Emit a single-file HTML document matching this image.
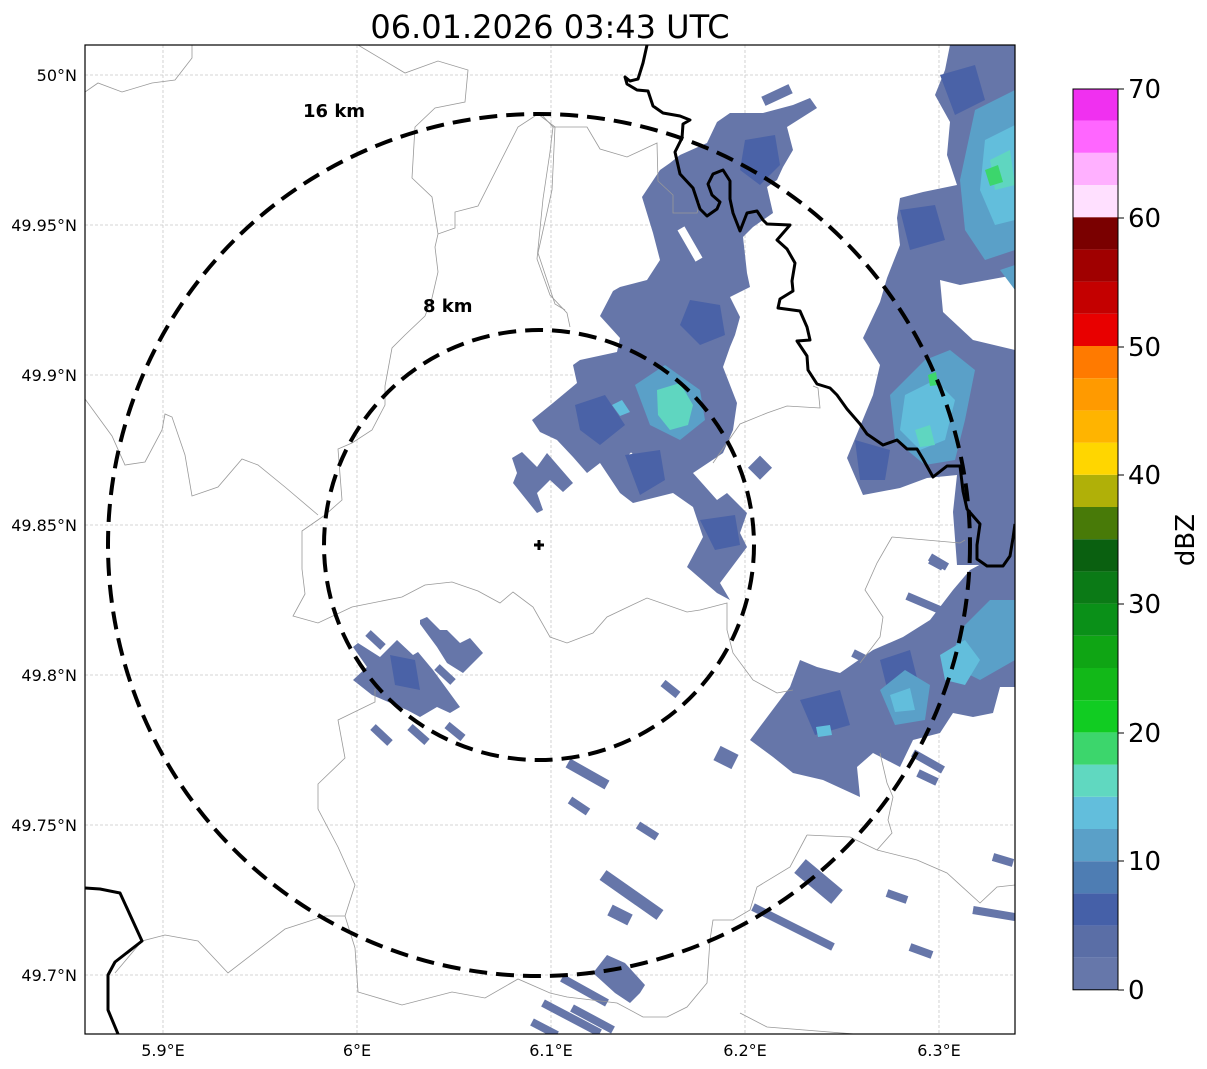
<!DOCTYPE html>
<html><head><meta charset="utf-8"><style>
html,body{margin:0;padding:0;background:#fff;}
svg{display:block;font-family:"DejaVu Sans","Liberation Sans",sans-serif;}
</style></head><body>
<svg width="1207" height="1069" viewBox="0 0 1207 1069" xmlns="http://www.w3.org/2000/svg">
<rect width="1207" height="1069" fill="#fff"/>
<text x="550" y="38" font-size="32" text-anchor="middle" fill="#000">06.01.2026 03:43 UTC</text>
<defs><clipPath id="c"><rect x="85" y="45" width="930" height="989"/></clipPath></defs>
<g clip-path="url(#c)">
<g stroke="#c8c8c8" stroke-width="0.8" stroke-dasharray="3,2">
<line x1="163" y1="45" x2="163" y2="1034"/><line x1="357" y1="45" x2="357" y2="1034"/><line x1="551" y1="45" x2="551" y2="1034"/><line x1="745" y1="45" x2="745" y2="1034"/><line x1="939" y1="45" x2="939" y2="1034"/>
<line x1="85" y1="75" x2="1015" y2="75"/><line x1="85" y1="225" x2="1015" y2="225"/><line x1="85" y1="375" x2="1015" y2="375"/><line x1="85" y1="525" x2="1015" y2="525"/><line x1="85" y1="675" x2="1015" y2="675"/><line x1="85" y1="825" x2="1015" y2="825"/><line x1="85" y1="975" x2="1015" y2="975"/>
</g>
<g fill="#6676a9">
<polygon points="532,420 553,403 577,383 573,365 580,360 617,352 620,338 600,316 613,291 620,287 647,280 660,260 653,233 642,197 660,170 670,163 680,155 707,143 717,122 730,113 763,113 793,105 810,98 817,108 787,127 793,150 783,167 777,180 767,187 773,213 753,227 743,237 747,273 750,287 730,297 740,317 735,335 730,347 723,367 737,403 733,430 723,453 693,473 717,500 727,493 747,513 740,533 747,547 720,583 730,600 717,593 687,567 703,537 693,507 673,493 633,503 620,493 600,463 587,473 573,457 557,440 540,432"/>
<polygon points="512,458 522,452 537,467 547,453 573,483 563,492 550,480 537,493 543,510 537,513 513,483 517,473"/>
<rect x="752" y="459" width="17" height="17" transform="rotate(45 760 467)"/>
<rect x="762" y="90" width="30" height="10" transform="rotate(-25 777 95)"/>
<polygon points="950,45 1015,45 1015,275 960,285 940,280 943,312 973,340 1015,350 1015,565 957,565 953,512 957,475 927,478 900,488 863,495 847,458 873,395 880,365 863,338 880,302 887,278 900,245 897,218 900,198 923,192 957,185 947,155 950,122 935,95 945,70"/>
<polygon points="750,740 780,700 790,687 800,660 817,667 840,673 873,650 903,637 930,620 953,590 970,570 983,563 1015,553 1015,687 1000,687 993,713 973,717 953,713 940,733 913,740 900,767 873,753 857,767 860,797 823,780 793,773 773,757"/>
<polygon points="353,680 367,667 353,647 358,643 380,657 397,640 413,655 418,652 433,670 460,707 450,713 437,707 420,717 407,710 372,695"/>
<polygon points="420,620 427,617 440,630 447,630 460,643 470,638 483,653 463,673 447,663 437,647 420,624"/>
<polygon points="593,973 607,955 625,963 645,985 640,993 630,1003 615,993"/>
</g>
<g stroke="#6676a9" stroke-width="8" stroke-linecap="butt">
<line x1="663" y1="683" x2="678" y2="695"/><line x1="570" y1="800" x2="588" y2="812"/><line x1="568" y1="763" x2="607" y2="785" stroke-width="10"/><line x1="638" y1="825" x2="657" y2="837"/><line x1="603" y1="875" x2="660" y2="915" stroke-width="12"/><line x1="610" y1="910" x2="630" y2="920" stroke-width="12"/><line x1="717" y1="753" x2="735" y2="762" stroke-width="16"/><line x1="753" y1="907" x2="833" y2="947"/><line x1="800" y1="866" x2="837" y2="897" stroke-width="18"/><line x1="887" y1="893" x2="907" y2="900"/><line x1="910" y1="947" x2="932" y2="955"/><line x1="993" y1="857" x2="1013" y2="863"/><line x1="973" y1="910" x2="1015" y2="917"/><line x1="930" y1="560" x2="943" y2="567"/><line x1="907" y1="596" x2="940" y2="610"/><line x1="930" y1="557" x2="947" y2="567"/><line x1="913" y1="753" x2="943" y2="770"/><line x1="918" y1="773" x2="937" y2="782"/><line x1="853" y1="653" x2="867" y2="660"/>
<line x1="373" y1="727" x2="390" y2="743"/><line x1="410" y1="727" x2="427" y2="742"/><line x1="447" y1="725" x2="463" y2="738"/><line x1="368" y1="633" x2="383" y2="647"/><line x1="437" y1="667" x2="453" y2="682"/>
<line x1="562" y1="978" x2="607" y2="1003"/><line x1="543" y1="1003" x2="600" y2="1033"/><line x1="572" y1="1008" x2="613" y2="1030"/><line x1="532" y1="1022" x2="557" y2="1035"/>
</g>
<g fill="#fff">
<rect x="686" y="226" width="8" height="36" transform="rotate(-30 690 244)"/>
<rect x="633" y="452" width="7" height="22" transform="rotate(-45 636 463)"/>
</g>
<g fill="#4a62a7">
<polygon points="745,140 775,135 780,165 760,185 740,170"/>
<polygon points="690,300 720,305 725,335 700,345 680,325"/>
<polygon points="575,405 605,395 625,425 600,445 580,430"/>
<polygon points="625,455 660,450 665,480 640,495"/>
<polygon points="700,520 735,515 740,545 715,550"/>
<polygon points="940,75 975,65 985,100 955,115"/>
<polygon points="900,210 935,205 945,240 910,250"/>
<polygon points="855,440 890,450 885,480 860,480"/>
<polygon points="800,700 840,690 850,725 815,735"/>
<polygon points="880,660 910,650 920,690 890,700"/>
<polygon points="390,655 415,660 420,690 395,685"/>
</g>
<g fill="#5aa0c8">
<polygon points="635,385 665,365 700,390 705,420 680,440 650,425"/>
<polygon points="975,110 1015,90 1015,250 985,260 965,230 960,180"/>
<polygon points="890,395 925,360 950,350 975,370 965,420 955,460 925,465 895,440"/>
<polygon points="960,630 990,600 1015,600 1015,660 980,680 950,665"/>
<polygon points="880,690 905,670 930,685 925,720 895,725"/>
<polygon points="1000,270 1015,265 1015,290"/>
</g>
<g fill="#62bedc">
<polygon points="985,140 1015,125 1015,220 995,225 980,190"/>
<polygon points="905,395 935,380 955,400 945,440 920,450 900,430"/>
<polygon points="940,655 965,640 980,660 965,685 945,680"/>
<polygon points="890,695 910,688 915,710 895,712"/>
<polygon points="816,727 830,725 832,735 818,737"/>
<polygon points="612,405 622,400 630,412 620,416"/>
</g>
<g fill="#5fd6c0">
<polygon points="657,390 680,383 693,405 688,425 670,430 658,415"/>
<polygon points="990,160 1010,150 1015,185 995,190"/>
<polygon points="915,430 930,425 935,445 920,447"/>
</g>
<g fill="#3cd66c">
<polygon points="985,170 998,165 1003,182 990,186"/>
<polygon points="928,375 936,372 938,385 930,386"/>
</g>
<g fill="none" stroke="#999" stroke-width="0.8">
<polyline points="85,92 98,83 122,92 152,83 175,80 192,58 192,45"/>
<polyline points="358,45 405,73 438,61 468,70 465,102 435,108 415,127 412,178 432,197 438,234 455,228 455,212 478,206 518,127 538,114 555,127 552,190 538,253 555,304 565,310"/>
<polyline points="438,234 435,247 438,272 432,298 425,316 405,335 392,348 385,386 385,405 372,430 352,443 338,449 342,500 325,515 302,531 302,569 305,594 293,616 318,623 352,607 402,597 425,585 452,582 478,591 500,603 513,592 533,607 550,637 567,643 593,633 607,617 647,598 687,612 700,610 727,603 727,630 733,653 753,680 777,693 793,690"/>
<polyline points="85,399 112,436 125,465 145,462 162,430 165,414 172,417 185,455 192,496 218,487 242,459 258,465 285,487 318,515"/>
<polyline points="540,113 553,127 587,127 600,149 627,157 657,143 658,181 673,195 673,213 697,213 700,202"/>
<polyline points="553,127 550,152 543,199 537,259 550,295 567,313 570,327"/>
<polyline points="713,463 740,424 767,413 787,406 820,408 818,388 813,386"/>
<polyline points="892,537 960,543 965,540"/>
<polyline points="892,537 877,563 865,590 883,617 880,637 860,663"/>
<polyline points="880,753 887,783 893,797 888,820 892,833 877,850"/>
<polyline points="807,835 850,837 877,850 917,860 947,873 980,903 997,887 1015,885"/>
<polyline points="807,835 790,867 757,887 750,910 733,920 713,920 710,940 707,983 687,1007 667,1017 643,1017 617,1003 567,997 550,993 518,979 485,998 452,992 402,1005 358,992 355,948 345,916 355,885 338,847 318,809 318,784 345,758 338,720 375,702 375,689"/>
<polyline points="345,916 325,916 285,929 228,973 198,941 165,935 142,941 115,973"/>
<polyline points="867,1035 767,1027 740,1013"/>
</g>
<g fill="none" stroke="#000" stroke-width="3" stroke-linejoin="round">
<polyline points="647,45 643,63 638,79 630,81 625,77 627,84 637,90 648,91 653,106 663,113 680,116 690,120 683,124 682,138 675,152 680,174 693,188 700,209 707,216 717,209 720,202 712,195 708,184 713,174 723,170 730,181 730,199 733,213 740,231 747,213 757,211 763,220 767,224 790,225 777,240 787,249 795,263 792,281 793,291 780,299 778,308 800,311 807,327 810,340 797,341 807,356 808,370 817,384 830,388 837,395 847,409 860,424 867,434 883,445 897,440 907,449 917,449 923,459 933,477 947,466 960,466 963,491 967,509 980,524 977,545 977,559 987,566 1003,566 1010,556 1013,538 1015,524"/>
<polyline points="85,888 100,889 120,893 142,941 115,962 108,975 108,1010 118,1034"/>
</g>
<g fill="none" stroke="#000" stroke-width="4" stroke-dasharray="18,9">
<circle cx="539" cy="545" r="215"/>
<circle cx="539" cy="545" r="431"/>
</g>
<path d="M539,540 v10 M534,545 h10" stroke="#000" stroke-width="3"/>
<text x="303" y="117" font-size="18" font-weight="bold">16 km</text>
<text x="423" y="312" font-size="18" font-weight="bold">8 km</text>
</g>
<rect x="85" y="45" width="930" height="989" fill="none" stroke="#000" stroke-width="1.2"/>
<g font-size="16" fill="#000">
<g text-anchor="end">
<text x="77" y="81">50°N</text><text x="77" y="231">49.95°N</text><text x="77" y="381">49.9°N</text><text x="77" y="531">49.85°N</text><text x="77" y="681">49.8°N</text><text x="77" y="831">49.75°N</text><text x="77" y="981">49.7°N</text>
</g>
<g text-anchor="middle">
<text x="163" y="1056">5.9°E</text><text x="357" y="1056">6°E</text><text x="551" y="1056">6.1°E</text><text x="745" y="1056">6.2°E</text><text x="939" y="1056">6.3°E</text>
</g>
</g>
<g>
<rect x="1073" y="957.8" width="45" height="32.2" fill="#6677aa"/>
<rect x="1073" y="925.6" width="45" height="32.2" fill="#5a6ea6"/>
<rect x="1073" y="893.4" width="45" height="32.2" fill="#4560a8"/>
<rect x="1073" y="861.2" width="45" height="32.2" fill="#4e7db3"/>
<rect x="1073" y="829.0" width="45" height="32.2" fill="#5aa0c8"/>
<rect x="1073" y="796.8" width="45" height="32.2" fill="#62bedc"/>
<rect x="1073" y="764.6" width="45" height="32.2" fill="#60d8c0"/>
<rect x="1073" y="732.4" width="45" height="32.2" fill="#3cd66c"/>
<rect x="1073" y="700.2" width="45" height="32.2" fill="#11cc22"/>
<rect x="1073" y="668.0" width="45" height="32.2" fill="#12b818"/>
<rect x="1073" y="635.8" width="45" height="32.2" fill="#0fa514"/>
<rect x="1073" y="603.6" width="45" height="32.2" fill="#0a9018"/>
<rect x="1073" y="571.4" width="45" height="32.2" fill="#0b7a16"/>
<rect x="1073" y="539.2" width="45" height="32.2" fill="#0a6010"/>
<rect x="1073" y="507.0" width="45" height="32.2" fill="#487a08"/>
<rect x="1073" y="474.8" width="45" height="32.2" fill="#b0b008"/>
<rect x="1073" y="442.6" width="45" height="32.2" fill="#ffd600"/>
<rect x="1073" y="410.4" width="45" height="32.2" fill="#ffb400"/>
<rect x="1073" y="378.2" width="45" height="32.2" fill="#ff9a00"/>
<rect x="1073" y="346.0" width="45" height="32.2" fill="#ff7a00"/>
<rect x="1073" y="313.8" width="45" height="32.2" fill="#e80000"/>
<rect x="1073" y="281.6" width="45" height="32.2" fill="#c40000"/>
<rect x="1073" y="249.4" width="45" height="32.2" fill="#a00000"/>
<rect x="1073" y="217.2" width="45" height="32.2" fill="#7a0000"/>
<rect x="1073" y="185.0" width="45" height="32.2" fill="#ffe0ff"/>
<rect x="1073" y="152.8" width="45" height="32.2" fill="#ffb0ff"/>
<rect x="1073" y="120.6" width="45" height="32.2" fill="#ff66ff"/>
<rect x="1073" y="89" width="45" height="31.6" fill="#f030f0"/>
<rect x="1073" y="89" width="45" height="900.8" fill="none" stroke="#000" stroke-width="1"/>
</g>
<g stroke="#000" stroke-width="1">
<line x1="1118" y1="990" x2="1124" y2="990"/><line x1="1118" y1="861" x2="1124" y2="861"/><line x1="1118" y1="733" x2="1124" y2="733"/><line x1="1118" y1="604" x2="1124" y2="604"/><line x1="1118" y1="475" x2="1124" y2="475"/><line x1="1118" y1="347" x2="1124" y2="347"/><line x1="1118" y1="218" x2="1124" y2="218"/><line x1="1118" y1="89" x2="1124" y2="89"/>
</g>
<g font-size="26" fill="#000">
<text x="1128" y="999">0</text><text x="1128" y="870">10</text><text x="1128" y="742">20</text><text x="1128" y="613">30</text><text x="1128" y="484">40</text><text x="1128" y="356">50</text><text x="1128" y="227">60</text><text x="1128" y="98">70</text>
</g>
<text x="1194" y="540" font-size="26" text-anchor="middle" transform="rotate(-90 1194 540)" fill="#000">dBZ</text>
</svg>
</body></html>
